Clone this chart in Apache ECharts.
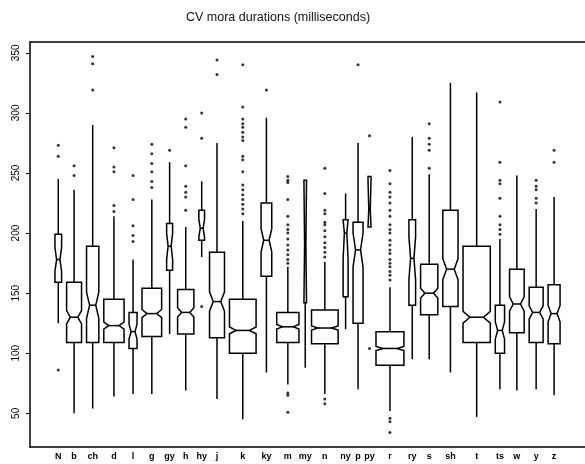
<!DOCTYPE html>
<html>
<head>
<meta charset="utf-8">
<script src="https://cdn.jsdelivr.net/npm/echarts@6/dist/echarts.min.js"></script>
<style>
html, body { margin: 0; padding: 0; background: #fff; }
#main { width: 585px; height: 464px; }
</style>
</head>
<body>
<div id="main"></div>
<script>
// CV mora durations per consonant (ms)
var categories = ['N', 'b', 'ch', 'd', 'l', 'g', 'gy', 'h', 'hy', 'j', 'k', 'ky', 'm', 'my', 'n', 'ny', 'p', 'py', 'r', 'ry', 's', 'sh', 't', 'ts', 'w', 'y', 'z'];
// sample sizes (estimated from the variable box widths)
var counts = [40, 200, 135, 367, 57, 345, 32, 237, 29, 200, 634, 102, 442, 6, 634, 22, 89, 8, 698, 40, 266, 208, 665, 77, 192, 174, 128];
var whiskerLow = [125, 50, 54, 64, 66, 66, 116, 69, 180, 62, 45, 84, 74, 88, 66, 120, 70, 205, 52, 95, 95, 84, 47, 70, 69, 70, 65];
var lowerQuartile = [159, 109, 109, 109, 104, 114, 169, 116, 194, 113, 100, 164, 109, 142, 108, 147, 125, 205, 90, 140, 132, 139, 109, 100, 117, 109, 108];
var medians = [178, 130, 140, 123, 118, 133, 189, 134, 204, 143, 119, 194, 122, 190, 121, 200, 186, 220, 104, 179, 150, 170, 130, 119, 141, 134, 133];
var upperQuartile = [199, 159, 189, 145, 134, 154, 208, 153, 219, 184, 145, 225, 134, 244, 136, 211, 209, 247, 118, 211, 174, 219, 189, 140, 170, 155, 157];
var whiskerHigh = [245, 236, 290, 214, 178, 228, 259, 205, 243, 275, 210, 296, 172, 244, 176, 233, 275, 247, 155, 280, 249, 325, 317, 195, 248, 220, 230];
var outliers = [
    [273, 264, 86],
    [256, 248],
    [347, 341, 319],
    [271, 255, 251, 223, 218],
    [248, 228, 206, 198, 193],
    [274, 266, 258, 251, 243, 238],
    [269],
    [295, 288, 256, 239, 234, 230, 219],
    [300, 279, 139],
    [344, 332],
    [340, 305, 295, 291, 288, 284, 280, 277, 264, 261, 251, 240, 236, 232, 228, 224, 220, 216],
    [319],
    [247, 244, 242, 228, 214, 207, 203, 200, 195, 190, 186, 182, 178, 175, 67, 65, 51],
    [],
    [254, 233, 219, 216, 209, 207, 202, 197, 192, 188, 184, 180, 62, 58],
    [],
    [340],
    [281, 104],
    [252, 241, 234, 230, 225, 219, 214, 207, 203, 200, 194, 190, 186, 183, 178, 175, 172, 168, 165, 161, 46, 43, 34],
    [],
    [291, 279, 274, 269, 254],
    [],
    [],
    [309, 259, 244, 241, 229, 214, 207, 203, 199],
    [],
    [244, 239, 236, 229, 225],
    [269, 259]
];
var yTicks = [50, 100, 150, 200, 250, 300, 350];

var dom = document.getElementById('main');
var chart = echarts.init(dom);

// varwidth layout: box width ~ sqrt(n), boxes placed side by side with a fixed gap
var widthScale = 1.06, gap = 5, margin = 25;
var centers = [];
var cursor = margin;
var boxData = [];
var pointData = [];
for (var i = 0; i < categories.length; i++) {
    var w = widthScale * Math.sqrt(counts[i]);
    var cx = cursor + w / 2;
    cursor += w + gap;
    centers.push(cx);
    var iqr = upperQuartile[i] - lowerQuartile[i];
    var nh = 1.58 * iqr / Math.sqrt(counts[i]);
    boxData.push([cx, w, whiskerLow[i], lowerQuartile[i], medians[i], upperQuartile[i], whiskerHigh[i], medians[i] - nh, medians[i] + nh]);
    for (var j = 0; j < outliers[i].length; j++) {
        pointData.push([cx, outliers[i][j]]);
    }
}
var xMax = cursor - gap + margin;

function renderBox(params, api) {
    var x = api.value(0), half = api.value(1) / 2;
    var lo = api.value(2), q1 = api.value(3), med = api.value(4), q3 = api.value(5), hi = api.value(6);
    // keep the notch inside the hinges
    var nLo = Math.max(api.value(7), q1), nHi = Math.min(api.value(8), q3);
    function p(dx, v) { return api.coord([x + dx, v]); }
    var style = { stroke: '#000', fill: 'none', lineWidth: 1.5 };
    return {
        type: 'group',
        children: [
            { type: 'polyline', shape: { points: [p(0, q3), p(0, hi)] }, style: style },
            { type: 'polyline', shape: { points: [p(0, q1), p(0, lo)] }, style: style },
            {
                type: 'polygon',
                shape: {
                    points: [
                        p(-half, q1), p(-half, nLo), p(-half / 2, med), p(-half, nHi), p(-half, q3),
                        p(half, q3), p(half, nHi), p(half / 2, med), p(half, nLo), p(half, q1)
                    ]
                },
                style: { stroke: '#000', fill: '#fff', lineWidth: 1.5 }
            },
            { type: 'line', shape: { x1: p(-half / 2, med)[0], y1: p(0, med)[1], x2: p(half / 2, med)[0], y2: p(0, med)[1] }, style: style }
        ]
    };
}

option = {
    backgroundColor: '#fff',
    animation: false,
    textStyle: { fontFamily: 'Liberation Sans' },
    title: {
        text: 'CV mora durations (milliseconds)',
        left: 181,
        top: 6,
        textStyle: { fontSize: 12.5, fontWeight: 'normal', color: '#111', fontFamily: 'Liberation Sans' }
    },
    grid: {
        left: 30,
        top: 42,
        width: 560,
        height: 405
    },
    xAxis: [{
        type: 'value',
        min: 0,
        max: xMax,
        splitLine: { show: false },
        axisLine: { show: true, lineStyle: { color: '#000', width: 1.5 } },
        axisTick: { show: false },
        axisLabel: {
            customValues: centers,
            margin: 5,
            fontSize: 9,
            fontWeight: 'bold',
            color: '#000',
            formatter: function (v) {
                return categories[centers.indexOf(v)];
            }
        }
    }, {
        // top frame line only
        type: 'value',
        position: 'top',
        min: 0,
        max: xMax,
        splitLine: { show: false },
        axisLine: { show: true, lineStyle: { color: '#000', width: 1.5 } },
        axisTick: { show: false },
        axisLabel: { show: false }
    }],
    yAxis: {
        type: 'value',
        min: 22,
        max: 359,
        splitLine: { show: false },
        axisLine: { show: true, lineStyle: { color: '#000', width: 1.5 } },
        axisTick: { show: true, length: 4, customValues: yTicks, lineStyle: { color: '#000' } },
        axisLabel: {
            customValues: yTicks,
            rotate: 90,
            margin: 9,
            fontSize: 10,
            color: '#000'
        }
    },
    series: [
        {
            type: 'custom',
            renderItem: renderBox,
            encode: { x: 0, y: [2, 6] },
            data: boxData,
            z: 2
        },
        {
            type: 'scatter',
            symbol: 'circle',
            symbolSize: 3,
            itemStyle: { color: '#000' },
            data: pointData,
            z: 3
        }
    ]
};
chart.setOption(option);
</script>
</body>
</html>
